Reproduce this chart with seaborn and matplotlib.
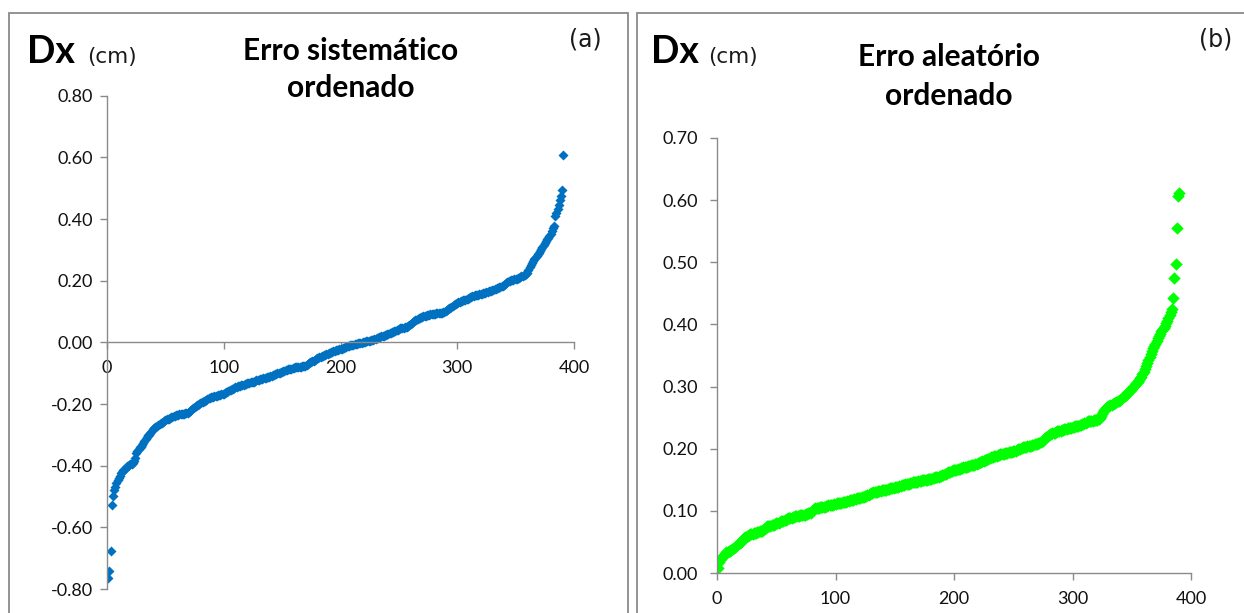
import numpy as np
import pandas as pd
import matplotlib
matplotlib.use("Agg")
import matplotlib.pyplot as plt
from matplotlib.patches import Rectangle
from matplotlib.ticker import FormatStrFormatter
import seaborn as sns

# ---------------------------------------------------------------- data
# Sorted systematic error Dx (cm), one value per observation
sistematico = [
    -0.765, -0.742, -0.678, -0.528, -0.497, -0.480, -0.468, -0.455, -0.448, -0.440,
    -0.433, -0.425, -0.420, -0.415, -0.410, -0.406, -0.402, -0.400, -0.397, -0.395,
    -0.393, -0.390, -0.384, -0.375, -0.360, -0.352, -0.345, -0.341, -0.338, -0.332,
    -0.326, -0.320, -0.313, -0.306, -0.302, -0.299, -0.295, -0.290, -0.282, -0.279,
    -0.276, -0.273, -0.270, -0.268, -0.265, -0.263, -0.260, -0.257, -0.255, -0.252,
    -0.250, -0.248, -0.247, -0.245, -0.243, -0.242, -0.240, -0.239, -0.237, -0.236,
    -0.235, -0.234, -0.233, -0.233, -0.232, -0.231, -0.230, -0.229, -0.228, -0.226,
    -0.222, -0.218, -0.215, -0.212, -0.209, -0.206, -0.204, -0.202, -0.199, -0.197,
    -0.195, -0.193, -0.191, -0.189, -0.186, -0.184, -0.182, -0.180, -0.178, -0.177,
    -0.176, -0.175, -0.174, -0.173, -0.172, -0.171, -0.170, -0.169, -0.167, -0.166,
    -0.165, -0.162, -0.160, -0.158, -0.156, -0.154, -0.152, -0.150, -0.148, -0.146,
    -0.145, -0.143, -0.141, -0.140, -0.139, -0.138, -0.137, -0.136, -0.134, -0.133,
    -0.132, -0.131, -0.130, -0.129, -0.128, -0.127, -0.125, -0.123, -0.122, -0.121,
    -0.120, -0.119, -0.118, -0.117, -0.116, -0.115, -0.114, -0.113, -0.111, -0.110,
    -0.108, -0.106, -0.105, -0.103, -0.102, -0.101, -0.099, -0.098, -0.096, -0.095,
    -0.094, -0.092, -0.091, -0.089, -0.088, -0.087, -0.086, -0.085, -0.083, -0.082,
    -0.081, -0.080, -0.080, -0.079, -0.079, -0.079, -0.078, -0.078, -0.077, -0.076,
    -0.074, -0.071, -0.068, -0.065, -0.063, -0.062, -0.059, -0.057, -0.055, -0.052,
    -0.050, -0.048, -0.047, -0.045, -0.044, -0.042, -0.040, -0.039, -0.037, -0.035,
    -0.034, -0.032, -0.031, -0.029, -0.028, -0.026, -0.025, -0.024, -0.023, -0.021,
    -0.020, -0.019, -0.017, -0.016, -0.014, -0.012, -0.011, -0.010, -0.009, -0.008,
    -0.007, -0.006, -0.005, -0.004, -0.003, -0.002, -0.001, -0.001, 0.000, 0.001,
    0.002, 0.003, 0.004, 0.005, 0.006, 0.007, 0.008, 0.009, 0.011, 0.012,
    0.013, 0.014, 0.016, 0.017, 0.019, 0.020, 0.022, 0.023, 0.025, 0.027,
    0.028, 0.030, 0.031, 0.033, 0.035, 0.036, 0.038, 0.040, 0.041, 0.043,
    0.045, 0.046, 0.047, 0.048, 0.049, 0.050, 0.051, 0.053, 0.056, 0.060,
    0.063, 0.066, 0.069, 0.072, 0.074, 0.076, 0.078, 0.080, 0.081, 0.082,
    0.084, 0.085, 0.087, 0.088, 0.089, 0.090, 0.091, 0.092, 0.092, 0.093,
    0.093, 0.094, 0.094, 0.095, 0.095, 0.096, 0.096, 0.097, 0.100, 0.103,
    0.106, 0.108, 0.110, 0.113, 0.116, 0.119, 0.121, 0.124, 0.126, 0.128,
    0.130, 0.132, 0.134, 0.135, 0.136, 0.137, 0.138, 0.140, 0.142, 0.144,
    0.146, 0.148, 0.150, 0.151, 0.152, 0.153, 0.154, 0.155, 0.156, 0.157,
    0.158, 0.159, 0.160, 0.161, 0.162, 0.164, 0.165, 0.166, 0.168, 0.169,
    0.170, 0.172, 0.173, 0.175, 0.177, 0.179, 0.180, 0.182, 0.184, 0.187,
    0.190, 0.192, 0.195, 0.198, 0.200, 0.201, 0.202, 0.203, 0.204, 0.205,
    0.207, 0.208, 0.210, 0.212, 0.214, 0.216, 0.218, 0.220, 0.222, 0.226,
    0.235, 0.243, 0.250, 0.258, 0.264, 0.270, 0.275, 0.280, 0.285, 0.290,
    0.296, 0.302, 0.308, 0.315, 0.322, 0.330, 0.335, 0.340, 0.345, 0.350,
    0.360, 0.370, 0.378, 0.410, 0.420, 0.432, 0.445, 0.462, 0.475, 0.495, 0.607,
]

# Sorted random error Dx (cm)
aleatorio = [
    0.008, 0.018, 0.022, 0.025, 0.027, 0.029, 0.031, 0.033, 0.034, 0.035,
    0.036, 0.037, 0.039, 0.041, 0.042, 0.044, 0.045, 0.046, 0.048, 0.050,
    0.052, 0.054, 0.056, 0.058, 0.059, 0.060, 0.061, 0.062, 0.063, 0.063,
    0.064, 0.064, 0.065, 0.066, 0.066, 0.067, 0.068, 0.068, 0.069, 0.071,
    0.073, 0.075, 0.075, 0.076, 0.076, 0.077, 0.077, 0.078, 0.079, 0.080,
    0.080, 0.081, 0.082, 0.083, 0.083, 0.084, 0.085, 0.086, 0.087, 0.088,
    0.088, 0.089, 0.089, 0.090, 0.090, 0.091, 0.091, 0.092, 0.092, 0.093,
    0.093, 0.093, 0.094, 0.094, 0.095, 0.095, 0.096, 0.096, 0.097, 0.099,
    0.101, 0.103, 0.104, 0.104, 0.105, 0.105, 0.106, 0.106, 0.107, 0.107,
    0.107, 0.108, 0.108, 0.109, 0.109, 0.109, 0.110, 0.110, 0.111, 0.111,
    0.112, 0.112, 0.113, 0.113, 0.113, 0.114, 0.114, 0.115, 0.115, 0.116,
    0.116, 0.117, 0.117, 0.118, 0.118, 0.119, 0.119, 0.120, 0.120, 0.121,
    0.121, 0.122, 0.122, 0.123, 0.124, 0.124, 0.125, 0.126, 0.127, 0.128,
    0.129, 0.130, 0.130, 0.131, 0.131, 0.132, 0.132, 0.132, 0.133, 0.133,
    0.133, 0.134, 0.134, 0.135, 0.135, 0.136, 0.136, 0.137, 0.137, 0.138,
    0.138, 0.139, 0.139, 0.140, 0.140, 0.141, 0.142, 0.142, 0.143, 0.143,
    0.144, 0.144, 0.145, 0.145, 0.146, 0.146, 0.147, 0.147, 0.147, 0.148,
    0.148, 0.148, 0.149, 0.149, 0.149, 0.150, 0.150, 0.151, 0.151, 0.152,
    0.152, 0.153, 0.153, 0.154, 0.154, 0.155, 0.155, 0.156, 0.156, 0.157,
    0.158, 0.159, 0.160, 0.161, 0.162, 0.163, 0.163, 0.164, 0.165, 0.165,
    0.166, 0.166, 0.167, 0.167, 0.168, 0.169, 0.169, 0.170, 0.170, 0.171,
    0.171, 0.172, 0.172, 0.173, 0.173, 0.174, 0.174, 0.175, 0.176, 0.177,
    0.177, 0.178, 0.179, 0.180, 0.181, 0.182, 0.182, 0.183, 0.184, 0.185,
    0.186, 0.186, 0.187, 0.188, 0.188, 0.189, 0.190, 0.190, 0.191, 0.191,
    0.192, 0.192, 0.193, 0.193, 0.193, 0.194, 0.194, 0.195, 0.195, 0.196,
    0.196, 0.197, 0.198, 0.199, 0.200, 0.200, 0.201, 0.202, 0.202, 0.203,
    0.203, 0.204, 0.204, 0.205, 0.205, 0.206, 0.206, 0.207, 0.208, 0.208,
    0.209, 0.210, 0.211, 0.212, 0.213, 0.215, 0.217, 0.219, 0.221, 0.222,
    0.223, 0.224, 0.225, 0.226, 0.226, 0.227, 0.228, 0.228, 0.229, 0.229,
    0.230, 0.230, 0.231, 0.232, 0.232, 0.233, 0.233, 0.234, 0.234, 0.235,
    0.235, 0.236, 0.236, 0.237, 0.237, 0.238, 0.238, 0.239, 0.240, 0.241,
    0.242, 0.243, 0.244, 0.244, 0.245, 0.245, 0.245, 0.246, 0.246, 0.246,
    0.247, 0.248, 0.250, 0.253, 0.256, 0.259, 0.262, 0.265, 0.267, 0.268,
    0.269, 0.270, 0.271, 0.272, 0.273, 0.274, 0.275, 0.276, 0.277, 0.279,
    0.280, 0.281, 0.283, 0.285, 0.287, 0.289, 0.291, 0.293, 0.295, 0.297,
    0.299, 0.301, 0.303, 0.305, 0.307, 0.310, 0.313, 0.316, 0.320, 0.324,
    0.328, 0.333, 0.338, 0.343, 0.347, 0.352, 0.358, 0.362, 0.365, 0.369,
    0.373, 0.378, 0.381, 0.385, 0.389, 0.392, 0.395, 0.398, 0.402, 0.406,
    0.410, 0.415, 0.420, 0.425, 0.442, 0.475, 0.497, 0.555, 0.607, 0.612,
]

titulos = ["Erro sistemático\nordenado", "Erro aleatório\nordenado"]
rotulos = ["(a)", "(b)"]
x_ticks = [0, 100, 200, 300, 400]
y_ticks_a = [-0.80, -0.60, -0.40, -0.20, 0.00, 0.20, 0.40, 0.60, 0.80]
y_ticks_b = [0.00, 0.10, 0.20, 0.30, 0.40, 0.50, 0.60, 0.70]

df_a = pd.DataFrame({"n": np.arange(1, len(sistematico) + 1), "dx": sistematico})
df_b = pd.DataFrame({"n": np.arange(1, len(aleatorio) + 1), "dx": aleatorio})

# ---------------------------------------------------------------- style
sns.set_theme(style="white")
plt.rcParams["font.family"] = ["Lato", "DejaVu Sans"]
plt.rcParams["axes.unicode_minus"] = False

W, H = 1244, 613
fig = plt.figure(figsize=(W / 100, H / 100), dpi=100)
fig.patch.set_facecolor("white")

GRAY = "#8a8a8a"


def px_box(x0, y0, x1, y1):
    """Axes rectangle from pixel corners (top-left origin)."""
    return [x0 / W, 1 - y1 / H, (x1 - x0) / W, (y1 - y0) / H]


def style_axes(ax, pad):
    for side in ("top", "right"):
        ax.spines[side].set_visible(False)
    for side in ("left", "bottom"):
        ax.spines[side].set_color(GRAY)
        ax.spines[side].set_linewidth(1.0)
    ax.tick_params(axis="both", which="major", direction="out", length=5,
                   width=1.0, color=GRAY, labelsize=13, pad=pad,
                   labelcolor="#111111", left=True, bottom=True)
    ax.tick_params(axis="x", pad=8)
    ax.set_xlabel("")
    ax.set_ylabel("")
    ax.set_facecolor("none")
    ax.grid(False)


# ---------------------------------------------------------------- panel (a)
ax_a = fig.add_axes(px_box(107, 95.7, 574, 589))
sns.scatterplot(data=df_a, x="n", y="dx", ax=ax_a, marker="D", s=26,
                color="#0070C0", linewidth=0, legend=False)
ax_a.set_xlim(0, 400)
ax_a.set_ylim(-0.8, 0.8)
ax_a.set_xticks(x_ticks)
ax_a.set_yticks(y_ticks_a)
ax_a.yaxis.set_major_formatter(FormatStrFormatter("%.2f"))
style_axes(ax_a, pad=5)
ax_a.spines["bottom"].set_position(("data", 0))

# ---------------------------------------------------------------- panel (b)
ax_b = fig.add_axes(px_box(717, 138, 1191, 573))
sns.scatterplot(data=df_b, x="n", y="dx", ax=ax_b, marker="D", s=40,
                color="#00FF00", linewidth=0, legend=False)
ax_b.set_xlim(0, 400)
ax_b.set_ylim(0, 0.7)
ax_b.set_xticks(x_ticks)
ax_b.set_yticks(y_ticks_b)
ax_b.yaxis.set_major_formatter(FormatStrFormatter("%.2f"))
style_axes(ax_b, pad=9)

# ---------------------------------------------------------------- frames
for (x0, x1) in [(9, 628), (637, 1260)]:
    fig.patches.append(Rectangle((x0 / W, -0.05), (x1 - x0) / W, 1.05 - 13 / H,
                                 transform=fig.transFigure, fill=False,
                                 edgecolor=GRAY, linewidth=1.3, zorder=0))


def fx(px):
    return px / W


def fy(py):
    return 1 - py / H


# ---------------------------------------------------------------- labels
for x_dx, x_cm in [(27, 87), (651, 708)]:
    fig.text(fx(x_dx), fy(63), "Dx", fontsize=27, fontweight="bold",
             ha="left", va="baseline", color="black")
    fig.text(fx(x_cm), fy(63), "(cm)", fontsize=15.5, family="DejaVu Sans",
             ha="left", va="baseline", color="#1a1a1a")

for titulo, cx, (y1, y2) in zip(titulos, [351, 949], [(60, 97), (66, 105)]):
    linha1, linha2 = titulo.split("\n")
    fig.text(fx(cx), fy(y1), linha1, fontsize=21.5, fontweight="bold",
             ha="center", va="baseline", color="black")
    fig.text(fx(cx), fy(y2), linha2, fontsize=21.5, fontweight="bold",
             ha="center", va="baseline", color="black")

for rotulo, cx in zip(rotulos, [585, 1216]):
    fig.text(fx(cx), fy(46), rotulo, fontsize=17, family="DejaVu Sans",
             ha="center", va="baseline", color="#1a1a1a")

fig.savefig("out.png", dpi=100, facecolor="white")
